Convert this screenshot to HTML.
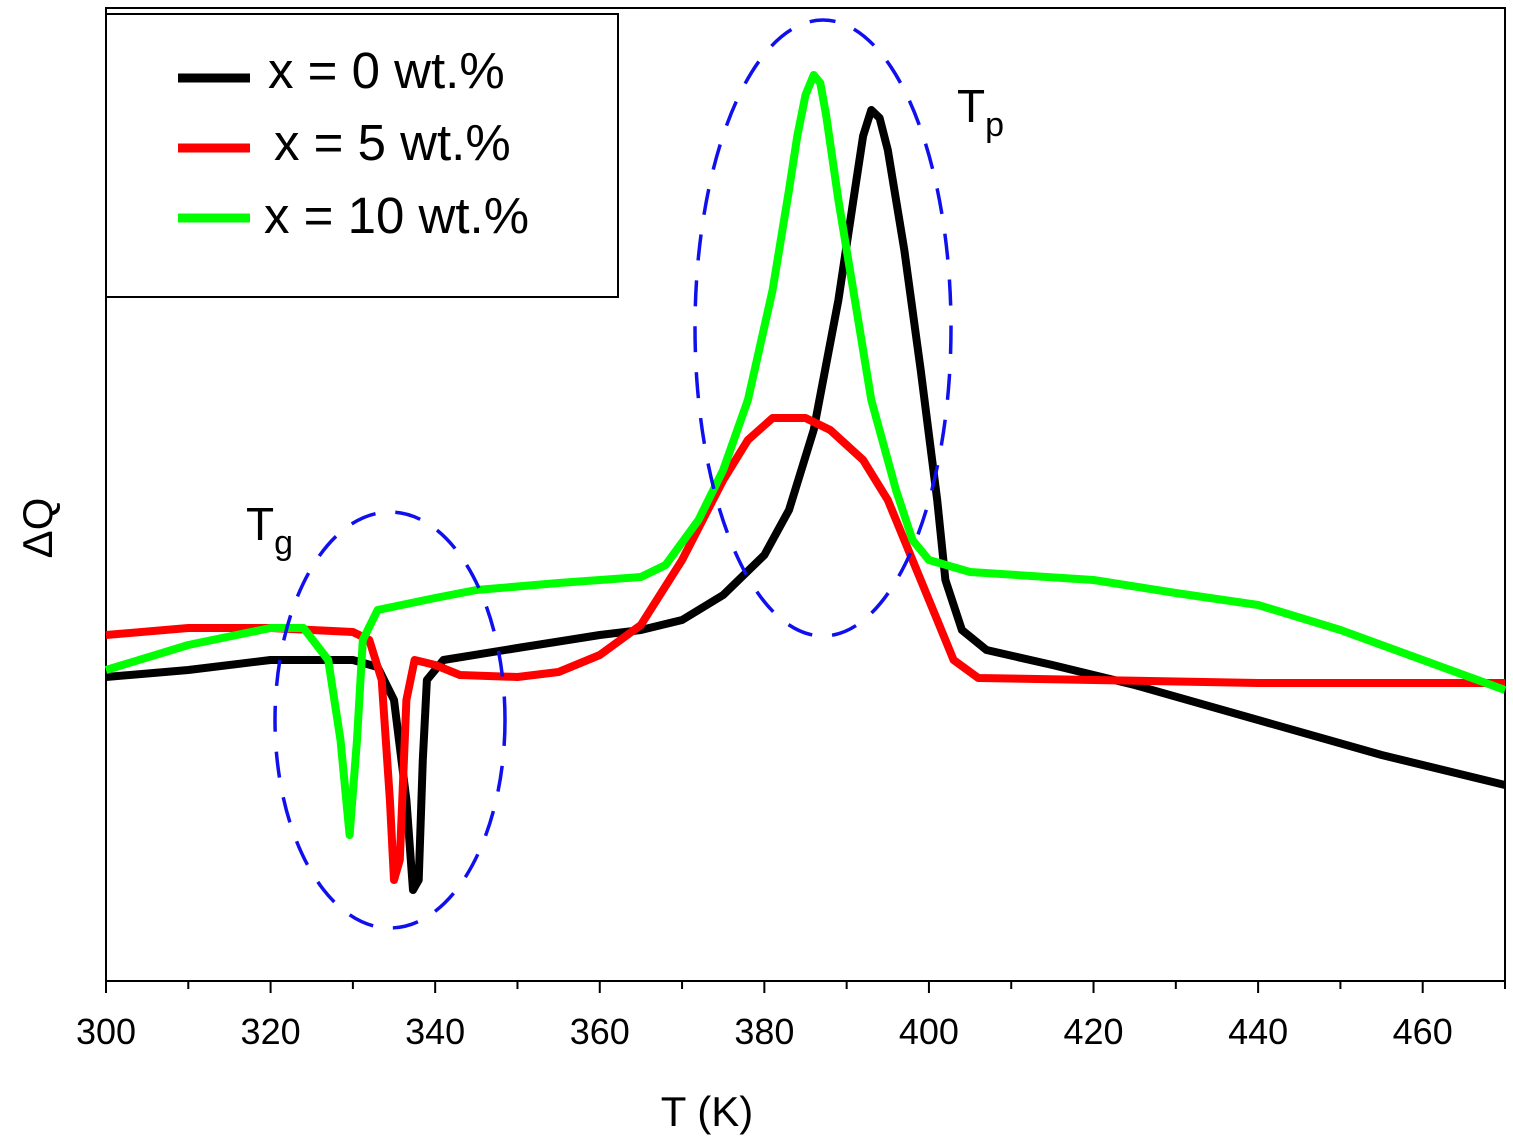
<!DOCTYPE html>
<html><head><meta charset="utf-8"><style>
html,body{margin:0;padding:0;background:#fff;}
svg{display:block;font-family:"Liberation Sans",Arial,sans-serif;}
</style></head><body>
<svg id="chart" width="1513" height="1138"></svg>
<script>
const tickLabels=[300,320,340,360,380,400,420,440,460];
const blackT=[300,310,320,330,333,335,336.5,337.3,338,338.5,339,341,350,360,365,370,375,380,383,386,389,391,392,393,394,395,397,399,401,402,404,407,415,425,440,455,470];
const blackV=[30.4,31.1,32.1,32.1,31.4,28.1,18.1,9.1,10.1,22.1,30.1,32.1,33.3,34.6,35.1,36.1,38.6,42.6,47.1,55.1,68.1,79.1,84.5,87.1,86.3,83.1,73.1,61.1,48.1,40.1,35.1,33.1,31.6,29.6,26.1,22.6,19.6];
const redT=[300,310,320,330,332,333.5,334.5,335,335.7,336.5,337.5,340,343,350,355,360,365,370,375,378,381,385,388,392,395,398,401,403,406,420,440,470];
const redV=[34.6,35.3,35.3,34.9,34.1,30.1,18.1,10.1,12.1,28.1,32.1,31.6,30.6,30.4,30.9,32.6,35.6,42.1,50.1,54.1,56.3,56.3,55.1,52.1,48.1,42.1,36.1,32.1,30.3,30.1,29.8,29.8];
const greenT=[300,310,320,324,327,328.5,329.6,330.5,331.2,333,340,345,355,365,368,372,375,378,381,383,384,385,386,386.8,387.5,389,391,393,396,398,400,405,420,430,440,450,460,470];
const greenV=[31.1,33.6,35.3,35.3,32.1,24.1,14.6,24.1,34.1,37.1,38.3,39.1,39.8,40.4,41.6,46.1,51.1,58.1,69.1,79.1,84.5,88.6,90.6,89.8,86.6,78.1,68.1,58.1,49.1,44.1,42.1,40.9,40.1,38.8,37.6,35.1,32.1,29.1];
const NS='http://www.w3.org/2000/svg';
const svg=document.getElementById('chart');
const X0=106,X1=1505,Y0=981,Y1=8;
const xs=t=>X0+(t-300)/170*(X1-X0);
const ys=v=>Y0-v*10;
function mk(tag,attrs,parent){const e=document.createElementNS(NS,tag);for(const k in attrs)e.setAttribute(k,attrs[k]);(parent||svg).appendChild(e);return e;}
const frame=mk('rect',{x:X0,y:Y1,width:X1-X0,height:Y0-Y1,fill:'none',stroke:'#000','stroke-width':2});


for(let t=300;t<=470;t+=10){
  const tk=mk('line',{x1:xs(t),x2:xs(t),y1:Y0,y2:Y0+(t%20===0?12:8),stroke:'#000','stroke-width':2});
  
  
}
tickLabels.forEach(t=>{
  const l=mk('text',{x:xs(t),y:1044,'font-size':36,'text-anchor':'middle'});
  l.textContent=t;
  
  
});
function series(T,V,color,name){
  const d=T.map((t,i)=>(i?'L':'M')+xs(t).toFixed(1)+','+ys(V[i]).toFixed(1)).join(' ');
  const p=mk('path',{d:d,fill:'none',stroke:color,'stroke-width':8,'stroke-linejoin':'round'});
  
  
}
series(blackT,blackV,'#000','series-x0');
series(redT,redV,'#ff0000','series-x5');
series(greenT,greenV,'#00ff00','series-x10');
const e1=mk('ellipse',{cx:390,cy:720,rx:115,ry:208,fill:'none',stroke:'#1010ee','stroke-width':3.5,'stroke-dasharray':'26 20'});


const e2=mk('ellipse',{cx:823,cy:328,rx:128,ry:308,fill:'none',stroke:'#1010ee','stroke-width':3.5,'stroke-dasharray':'26 20'});


</script>
<svg style="position:absolute;left:0;top:0" width="1513" height="1138">
<g font-family="Liberation Sans,Arial,sans-serif">
<rect x="106" y="14" width="512" height="283" fill="#fff" stroke="#000" stroke-width="2"/>
<g><line x1="178" x2="250" y1="78" y2="78" stroke="#000" stroke-width="9"/><text x="268" y="88" font-size="51">x = 0 wt.%</text></g>
<g><line x1="178" x2="250" y1="148" y2="148" stroke="#ff0000" stroke-width="9"/><text x="274" y="160" font-size="51">x = 5 wt.%</text></g>
<g><line x1="178" x2="250" y1="218" y2="218" stroke="#00ff00" stroke-width="9"/><text x="264" y="233" font-size="51">x = 10 wt.%</text></g>
<text x="246" y="540" font-size="46">T<tspan font-size="34" dy="14">g</tspan></text>
<text x="957" y="122" font-size="46">T<tspan font-size="34" dy="14">p</tspan></text>
<text x="707" y="1126" font-size="42" text-anchor="middle">T (K)</text>
<text transform="translate(52,528) rotate(-90)" font-size="42" text-anchor="middle">ΔQ</text>
</g></svg>
</body></html>
